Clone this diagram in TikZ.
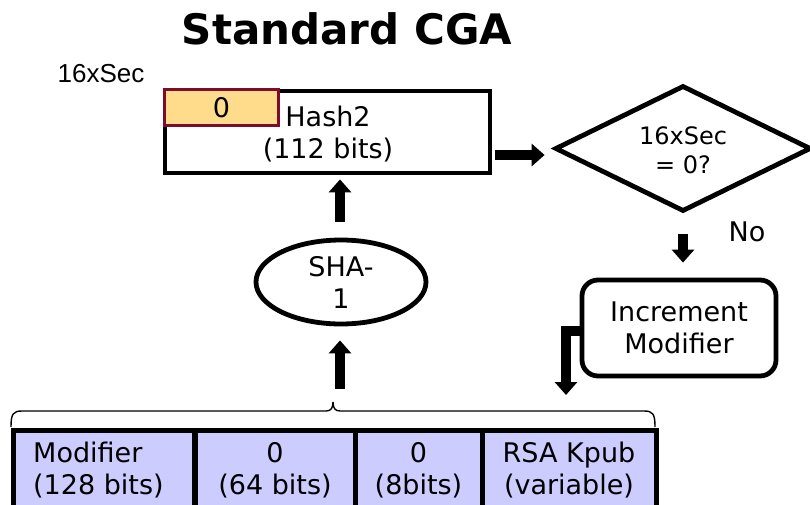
\documentclass[tikz,border=0pt]{standalone}
\usepackage{fontspec}
\setmainfont{DejaVu Sans}
\newfontfamily\arialfont{Liberation Sans}
\usetikzlibrary{arrows.meta,shapes.geometric,calc}

\definecolor{fieldfill}{HTML}{CCCCFF}
\definecolor{secfill}{HTML}{FFDB8C}
\definecolor{secline}{HTML}{7B0C2A}

\begin{document}
\begin{tikzpicture}[x=1pt,y=-1pt,
  txt/.style={font=\fontsize{27}{32}\selectfont, align=center, inner sep=0pt},
  smalltxt/.style={font=\fontsize{24}{29}\selectfont, align=center, inner sep=0pt},
  heavy/.style={draw=black, line width=4.8pt},
  hashbox/.style={heavy, fill=white, rectangle, inner sep=0pt},
  secbox/.style={draw=secline, fill=secfill, line width=3pt, rectangle, inner sep=0pt},
  decision/.style={heavy, diamond, inner sep=0pt, miter limit=10},
  process/.style={heavy, rectangle, rounded corners=16pt, inner sep=0pt},
  hashfn/.style={heavy, ellipse, inner sep=0pt},
  field/.style={draw=black, line width=5pt, fill=fieldfill, rectangle, inner sep=0pt},
  bigarrow/.style={line width=10pt, -{Triangle[width=22pt,length=13pt]}, line join=miter},
  bracepath/.style={draw=black, line width=1.4pt}
]
\useasboundingbox (0,0) rectangle (810,505);

% title and the Sec label
\node[inner sep=0pt, font=\bfseries\fontsize{42}{48}\selectfont] (title) at (347,29) {Standard CGA};
\node[inner sep=0pt, font=\arialfont\fontsize{26}{30}\selectfont] (seclabel) at (101,74) {16xSec};

% Hash2 field with the 16xSec zero bits
\node[hashbox, minimum width=325pt, minimum height=82pt] (hash) at (327.5,132) {};
\node[secbox, minimum width=114pt, minimum height=36pt] (secbits) at (221.5,107.5) {};
\node[txt] (zero) at (secbits) {0};
\node[txt] (hashtxt) at (328,134) {Hash2\\(112 bits)};

% SHA-1
\node[hashfn, minimum width=170pt, minimum height=84pt] (sha) at (341,282) {};
\node[txt] (shatxt) at (sha) {SHA-\\1};

% decision
\node[decision, minimum width=256pt, minimum height=126pt] (dia) at (683,148.5) {};
\node[smalltxt] (diatxt) at (683,150) {16xSec\\= 0?};
\node[txt] (nolabel) at (747,232) {No};

% increment step
\node[process, minimum width=194pt, minimum height=96pt] (inc) at (679,328) {};
\node[txt] (inctxt) at (inc) {Increment\\Modifier};

% input fields
\node[field, minimum width=181pt, minimum height=90pt] (f1) at (104,475.5) {};
\node[field, minimum width=160pt, minimum height=90pt] (f2) at (275,475.5) {};
\node[field, minimum width=127pt, minimum height=90pt] (f3) at (418.5,475.5) {};
\node[field, minimum width=174pt, minimum height=90pt] (f4) at (569,475.5) {};
\node[txt, align=left, anchor=west] (f1txt) at (33,470.5) {Modifier\\(128 bits)};
\node[txt] (f2txt) at (275,470.5) {0\\(64 bits)};
\node[txt] (f3txt) at (418.5,470.5) {0\\(8bits)};
\node[txt] (f4txt) at (569,470.5) {RSA Kpub\\(variable)};

% brace over the input fields
\coordinate (bracetip) at (333,402);
\path[bracepath] (11,427) .. controls (11,414) and (13,411) .. (22,411)
  -- (326,411) .. controls (331,411) and (333,408) .. (bracetip)
  .. controls (333,408) and (335,411) .. (340,411)
  -- (644,411) .. controls (653,411) and (655,414) .. (655,427);

% connectors
\coordinate (feed) at (340,389);
\draw[bigarrow, shorten >=14pt] (feed) -- (feed |- sha.south);
\draw[bigarrow, shorten <=15.5pt, shorten >=4pt] (feed |- sha.north) -- (feed |- hash.south);
\draw[bigarrow] ([yshift=-23pt,xshift=2.5pt]hash.east) -- ([xshift=-8pt,yshift=-6.5pt]dia.west);
\draw[bigarrow, shorten <=20.5pt, shorten >=15pt] (dia.south) -- (dia.south |- inc.north);
\coordinate (drop) at (566,395);
\draw[bigarrow] ([yshift=-3pt]inc.west) -| (drop);
\end{tikzpicture}
\end{document}
